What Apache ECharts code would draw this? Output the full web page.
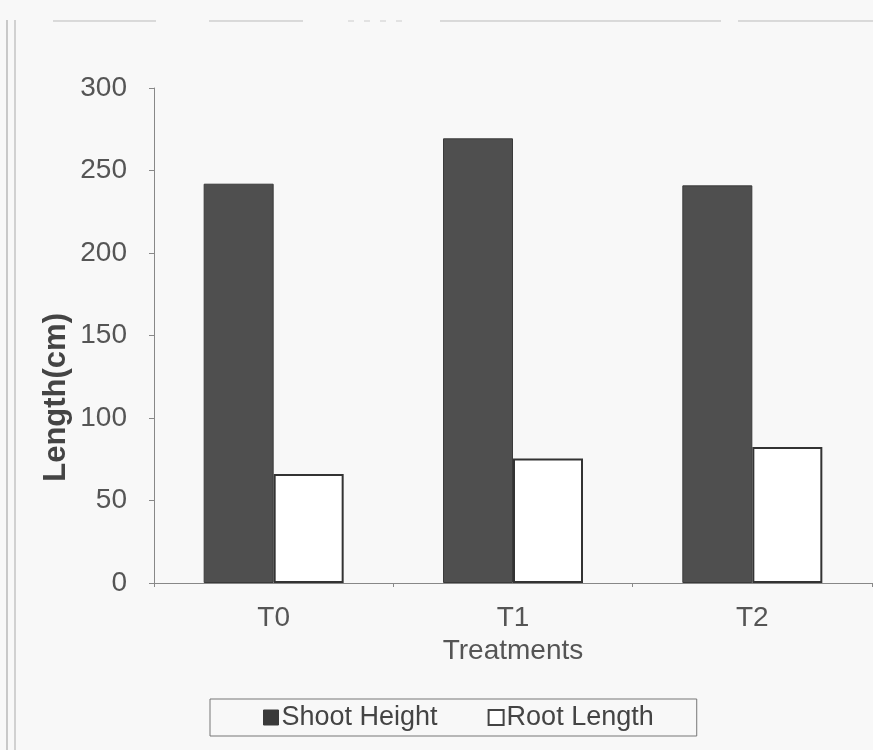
<!DOCTYPE html>
<html><head><meta charset="utf-8">
<script src="https://cdn.jsdelivr.net/npm/echarts@6/dist/echarts.min.js"></script>
<style>html,body{margin:0;padding:0;background:#f8f8f8}#c{width:873px;height:750px}</style>
</head><body><div id="c"></div>
<script>
var categories = ['T0', 'T1', 'T2'];
var shootHeight = [242, 269.5, 241];
var rootLength = [66, 75.5, 82.5];
var yTicks = [0, 50, 100, 150, 200, 250, 300];

var chart = echarts.init(document.getElementById('c'));
var font = 'Liberation Sans, Arial, sans-serif';
chart.setOption({
  backgroundColor: '#f8f8f8',
  animation: false,
  grid: {left: 154, right: 1, top: 88, bottom: 167},
  legend: {
    bottom: 14, left: 210,
    itemWidth: 15, itemHeight: 15, itemGap: 50,
    padding: [5, 43, 5, 53],
    borderColor: '#777', borderWidth: 1,
    textStyle: {fontFamily: font, fontSize: 27, color: '#444', padding: [0, 0, 0, -2]},
    data: [
      {name: 'Shoot Height', icon: 'rect', itemStyle: {color: '#3a3a3a', borderColor: '#3a3a3a', borderWidth: 1}},
      {name: 'Root Length', icon: 'rect', itemStyle: {color: '#ffffff', borderColor: '#444', borderWidth: 2}}
    ]
  },
  xAxis: {
    type: 'category', data: categories,
    name: 'Treatments', nameLocation: 'middle', nameGap: 54,
    nameTextStyle: {fontFamily: font, fontSize: 28, color: '#555'},
    axisLine: {lineStyle: {color: '#888', width: 1}},
    axisTick: {show: true, inside: false, length: 4, lineStyle: {color: '#888'}},
    axisLabel: {fontFamily: font, fontSize: 28, color: '#555', margin: 21}
  },
  yAxis: {
    type: 'value', min: yTicks[0], max: yTicks[yTicks.length - 1], interval: 50,
    axisLine: {show: true, lineStyle: {color: '#888', width: 1}},
    axisTick: {show: true, length: 5, lineStyle: {color: '#888'}},
    splitLine: {show: false},
    axisLabel: {fontFamily: font, fontSize: 28, color: '#555', margin: 27}
  },
  graphic: [
    {type: 'text', left: 41, top: 313, rotation: Math.PI / 2,
     style: {text: 'Length(cm)', fontFamily: font, fontSize: 31, fontWeight: 'bold', fill: '#444'}},
    {type: 'line', shape: {x1: 7, y1: 20, x2: 7, y2: 750}, style: {stroke: '#999', lineWidth: 1}},
    {type: 'line', shape: {x1: 15, y1: 20, x2: 15, y2: 750}, style: {stroke: '#aaa', lineWidth: 1}},
    {type: 'line', shape: {x1: 53, y1: 21, x2: 156, y2: 21}, style: {stroke: '#bbb', lineWidth: 1}},
    {type: 'line', shape: {x1: 209, y1: 21, x2: 303, y2: 21}, style: {stroke: '#bbb', lineWidth: 1}},
    {type: 'line', shape: {x1: 348, y1: 21, x2: 412, y2: 21}, style: {stroke: '#ccc', lineWidth: 1, lineDash: [6, 10]}},
    {type: 'line', shape: {x1: 440, y1: 21, x2: 721, y2: 21}, style: {stroke: '#bbb', lineWidth: 1}},
    {type: 'line', shape: {x1: 738, y1: 21, x2: 873, y2: 21}, style: {stroke: '#bbb', lineWidth: 1}}
  ],
  series: [
    {name: 'Shoot Height', type: 'bar', data: shootHeight, barWidth: 70, barGap: '0%',
     itemStyle: {color: '#4f4f4f', borderColor: '#3a3a3a', borderWidth: 1}},
    {name: 'Root Length', type: 'bar', data: rootLength, barWidth: 70,
     itemStyle: {color: '#ffffff', borderColor: '#333', borderWidth: 2}}
  ]
});
</script></body></html>
